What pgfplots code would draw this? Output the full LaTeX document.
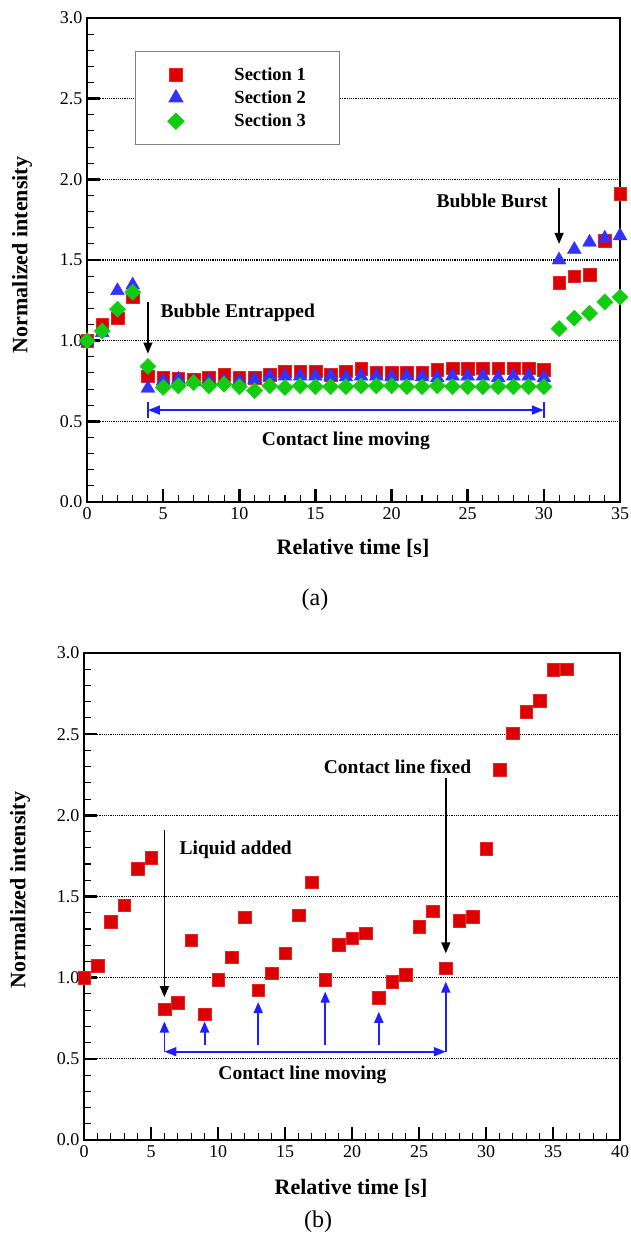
\documentclass[border=0pt]{standalone}
\usepackage{fontspec}
\setmainfont{Liberation Serif}
\usepackage{pgfplots}
\pgfplotsset{compat=1.18}
\usetikzlibrary{arrows.meta}

\definecolor{myred}{RGB}{221,0,0}
\definecolor{myblue}{RGB}{51,51,255}
\definecolor{mygreen}{RGB}{17,204,17}
\definecolor{arrowblue}{RGB}{30,30,255}

\pgfplotsset{
  panel/.style={
    scale only axis,
    anchor=south west,
    clip=false,
    ymin=0, ymax=3,
    ytick={0,0.5,1,1.5,2,2.5,3},
    yticklabels={0.0,0.5,1.0,1.5,2.0,2.5,3.0},
    minor y tick num=4,
    minor x tick num=4,
    tick align=inside,
    xtick pos=bottom, ytick pos=left,
    major tick length=13pt, minor tick length=7pt,
    major tick style={black, line width=2.5pt},
    minor tick style={black, line width=1.1pt},
    axis line style={line width=2pt},
    ymajorgrids,
    major grid style={black, line width=1.2pt, dash pattern=on 1.2pt off 1pt},
    tick label style={font=\fontsize{18}{20}\selectfont},
    yticklabel style={xshift=-1pt},
    xticklabel style={yshift=-2pt},
  },
  sec1/.style={only marks, mark=square*, mark size=6.3pt,
    mark options={fill=myred, draw=myred!85!white, line width=0.4pt}},
  sec2/.style={only marks, mark=triangle*, mark size=8pt,
    mark options={fill=myblue, draw=myblue}},
  sec3/.style={only marks, mark=square*, mark size=5.7pt,
    mark options={rotate=45, fill=mygreen, draw=mygreen}},
}
\tikzset{
  note/.style={font=\fontsize{19.5}{21}\selectfont\bfseries},
  blk/.style={black, line width=1.4pt, -{Triangle[width=9pt,length=11pt]}},
  blu/.style={arrowblue, line width=1.8pt},
}

\begin{document}
\begin{tikzpicture}
\path[use as bounding box] (0pt,0pt) rectangle (630pt,-1240pt);

% ---------- panel (a)
\begin{axis}[panel,
  at={(87pt,-502pt)}, width=533pt, height=484pt,
  xmin=0, xmax=35,
  xtick={0,5,10,15,20,25,30,35},
  xticklabels={0,5,10,15,20,25,30,35},
  legend style={at={(0.09,0.932)}, anchor=north west, draw=gray, line width=1pt,
    font=\fontsize{18.5}{20}\selectfont\bfseries,
    inner xsep=18pt, inner ysep=14pt, row sep=5pt},
  legend cell align=left,
  legend image code/.code={\path (-22pt,0pt) (22pt,0pt);
    \draw[#1] plot coordinates {(0pt,0pt)};},
  /tikz/every odd column/.append style={column sep=34pt},
]
\addplot[sec1] coordinates {
(0,1.00) (1,1.10) (2,1.14) (3,1.27) (4,0.78) (5,0.77) (6,0.765) (7,0.76)
(8,0.77) (9,0.79) (10,0.77) (11,0.77) (12,0.79) (13,0.81) (14,0.81) (15,0.81)
(16,0.79) (17,0.81) (18,0.825) (19,0.805) (20,0.80) (21,0.80) (22,0.805) (23,0.82)
(24,0.83) (25,0.825) (26,0.83) (27,0.83) (28,0.83) (29,0.83) (30,0.82)
(31,1.36) (32,1.40) (33,1.41) (34,1.62) (35,1.91)
};
\addplot[sec2] coordinates {
(0,1.00) (1,1.05) (2,1.31) (3,1.345) (4,0.705) (5,0.75) (6,0.76) (7,0.75)
(8,0.75) (9,0.75) (10,0.75) (11,0.76) (12,0.78) (13,0.78) (14,0.78) (15,0.78)
(16,0.78) (17,0.775) (18,0.78) (19,0.78) (20,0.775) (21,0.78) (22,0.775) (23,0.77)
(24,0.78) (25,0.78) (26,0.78) (27,0.77) (28,0.78) (29,0.78) (30,0.77)
(31,1.50) (32,1.565) (33,1.61) (34,1.635) (35,1.65)
};
\addplot[sec3] coordinates {
(0,1.00) (1,1.06) (2,1.195) (3,1.30) (4,0.84) (5,0.71) (6,0.72) (7,0.74)
(8,0.72) (9,0.73) (10,0.715) (11,0.69) (12,0.72) (13,0.71) (14,0.72) (15,0.715)
(16,0.715) (17,0.715) (18,0.72) (19,0.72) (20,0.72) (21,0.715) (22,0.715) (23,0.72)
(24,0.715) (25,0.715) (26,0.715) (27,0.715) (28,0.715) (29,0.715) (30,0.715)
(31,1.075) (32,1.14) (33,1.17) (34,1.24) (35,1.27)
};
\legend{Section 1\hspace*{14pt}, Section 2\hspace*{14pt}, Section 3\hspace*{14pt}}

\node[note, anchor=west] at (axis cs:4.6,1.175) {Bubble Entrapped};
\draw[blk] (axis cs:4,1.24) -- (axis cs:4,0.92);
\node[note] at (axis cs:26.6,1.866) {Bubble Burst};
\draw[blk] (axis cs:31,1.945) -- (axis cs:31,1.60);
\draw[blu, {Triangle[width=9pt,length=12pt]}-{Triangle[width=9pt,length=12pt]}]
  (axis cs:4,0.57) -- (axis cs:30,0.57);
\draw[blu] (axis cs:4,0.52) -- (axis cs:4,0.62);
\draw[blu] (axis cs:30,0.52) -- (axis cs:30,0.62);
\node[note] at (axis cs:17,0.38) {Contact line moving};
\end{axis}

\node[font=\fontsize{22}{24}\selectfont\bfseries] at (353pt,-548pt) {Relative time [s]};
\node[font=\fontsize{22}{24}\selectfont\bfseries, rotate=90] at (22pt,-255pt) {Normalized intensity};
\node[font=\fontsize{24}{26}\selectfont] at (315pt,-600pt) {(a)};

% ---------- panel (b)
\begin{axis}[panel,
  at={(84pt,-1140pt)}, width=536pt, height=487pt,
  xmin=0, xmax=40,
  xtick={0,5,10,15,20,25,30,35,40},
  xticklabels={0,5,10,15,20,25,30,35,40},
]
\addplot[sec1] coordinates {
(0,1.00) (1,1.075) (2,1.345) (3,1.447) (4,1.67) (5,1.74) (6,0.805) (7,0.845)
(8,1.232) (9,0.776) (10,0.986) (11,1.126) (12,1.372) (13,0.924) (14,1.027) (15,1.15)
(16,1.386) (17,1.588) (18,0.986) (19,1.205) (20,1.243) (21,1.274) (22,0.877) (23,0.976)
(24,1.017) (25,1.315) (26,1.41) (27,1.058) (28,1.351) (29,1.376) (30,1.793)
(31,2.28) (32,2.506) (33,2.64) (34,2.707) (35,2.896) (36,2.90)
};
\node[note, anchor=west] at (axis cs:6.87,1.787) {Liquid added};
\draw[blk] (axis cs:6,1.91) -- (axis cs:6,0.88);
\node[note] at (axis cs:23.4,2.30) {Contact line fixed};
\draw[blk] (axis cs:27,2.23) -- (axis cs:27,1.15);
\draw[blu, {Triangle[width=9pt,length=12pt]}-{Triangle[width=9pt,length=12pt]}]
  (axis cs:6,0.544) -- (axis cs:27,0.544);
\draw[blu, -{Triangle[width=9pt,length=11pt]}] (axis cs:6,0.544) -- (axis cs:6,0.73);
\draw[blu, -{Triangle[width=9pt,length=11pt]}] (axis cs:27,0.544) -- (axis cs:27,0.976);
\draw[blu, -{Triangle[width=9pt,length=11pt]}] (axis cs:9,0.585) -- (axis cs:9,0.73);
\draw[blu, -{Triangle[width=9pt,length=11pt]}] (axis cs:13,0.585) -- (axis cs:13,0.85);
\draw[blu, -{Triangle[width=9pt,length=11pt]}] (axis cs:18,0.585) -- (axis cs:18,0.914);
\draw[blu, -{Triangle[width=9pt,length=11pt]}] (axis cs:22,0.585) -- (axis cs:22,0.79);
\node[note] at (axis cs:16.3,0.40) {Contact line moving};
\end{axis}

\node[font=\fontsize{22}{24}\selectfont\bfseries] at (351pt,-1188pt) {Relative time [s]};
\node[font=\fontsize{22}{24}\selectfont\bfseries, rotate=90] at (20pt,-890pt) {Normalized intensity};
\node[font=\fontsize{24}{26}\selectfont] at (318pt,-1222pt) {(b)};
\end{tikzpicture}
\end{document}
